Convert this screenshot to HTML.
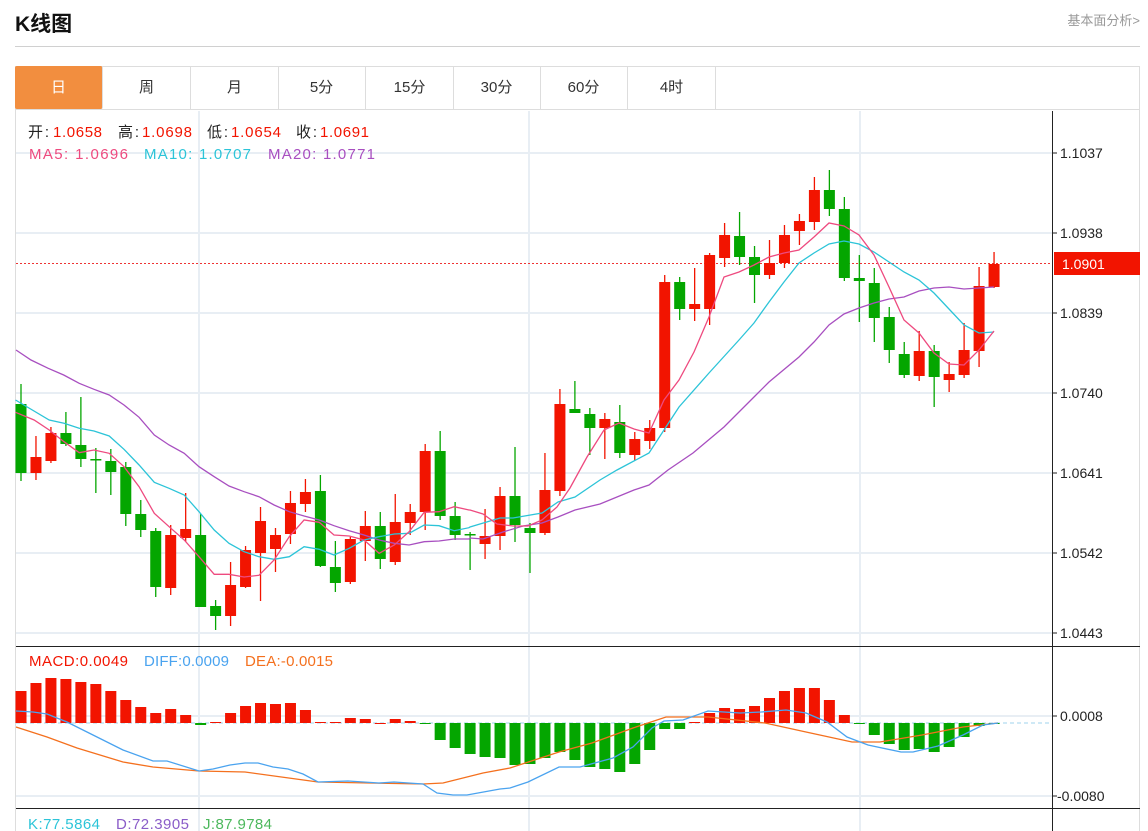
<!DOCTYPE html>
<html><head><meta charset="utf-8">
<style>
*{margin:0;padding:0;box-sizing:border-box}
html,body{width:1148px;height:831px;overflow:hidden}
body{background:#fff;font-family:"Liberation Sans","Noto Sans CJK SC",sans-serif;position:relative}
.t{position:absolute;left:15px;top:8px;font-size:21px;font-weight:bold;color:#111}
.r{position:absolute;right:8px;top:10px;font-size:13px;color:#999}
.hl{position:absolute;left:15px;top:46px;width:1125px;height:1px;background:#d0d0d0}
.box{position:absolute;left:15px;top:66px;width:1125px;height:790px;border:1px solid #ddd}
.tabs{position:absolute;left:15px;top:66px;height:44px;width:1125px;border-bottom:1px solid #ddd}
.tab{position:absolute;top:0;height:43px;width:88px;text-align:center;line-height:43px;font-size:15px;color:#333;border-right:1px solid #ddd}
.tab.a{background:#f28e3f;color:#fff;border-radius:2px}
</style></head><body>
<div class="t">K线图</div>
<div class="r">基本面分析&gt;</div>
<div class="hl"></div>
<div class="box"></div>
<div class="tabs">
<div class="tab a" style="left:0">日</div>
<div class="tab" style="left:88px">周</div>
<div class="tab" style="left:176px">月</div>
<div class="tab" style="left:263px">5分</div>
<div class="tab" style="left:351px">15分</div>
<div class="tab" style="left:438px">30分</div>
<div class="tab" style="left:525px">60分</div>
<div class="tab" style="left:613px">4时</div>
</div>
<svg id="s" width="1148" height="831" style="position:absolute;left:0;top:0" font-family="Liberation Sans, Noto Sans CJK SC, sans-serif">
<g stroke="#e8eef4" stroke-width="2">
<line x1="16" x2="1052" y1="153" y2="153"/><line x1="16" x2="1052" y1="233" y2="233"/><line x1="16" x2="1052" y1="313" y2="313"/><line x1="16" x2="1052" y1="393" y2="393"/><line x1="16" x2="1052" y1="473" y2="473"/><line x1="16" x2="1052" y1="553" y2="553"/><line x1="16" x2="1052" y1="633" y2="633"/>
<line x1="16" x2="1052" y1="716" y2="716"/><line x1="16" x2="1052" y1="796" y2="796"/>
<line x1="199" x2="199" y1="111" y2="831"/><line x1="529" x2="529" y1="111" y2="831"/><line x1="860" x2="860" y1="111" y2="831"/>
</g>
<line x1="1052.5" x2="1052.5" y1="111" y2="831" stroke="#222"/>
<line x1="16" x2="1140" y1="646.5" y2="646.5" stroke="#222"/>
<line x1="16" x2="1140" y1="808.5" y2="808.5" stroke="#222"/>
<g font-size="14" fill="#222">
<text x="1060" y="158">1.1037</text><text x="1060" y="238">1.0938</text><text x="1060" y="318">1.0839</text><text x="1060" y="398">1.0740</text><text x="1060" y="478">1.0641</text><text x="1060" y="558">1.0542</text><text x="1060" y="638">1.0443</text>
<text x="1060" y="721">0.0008</text><text x="1057" y="801">-0.0080</text>
</g>
<g stroke="#222"><line x1="1053" x2="1057" y1="153" y2="153"/><line x1="1053" x2="1057" y1="233" y2="233"/><line x1="1053" x2="1057" y1="313" y2="313"/><line x1="1053" x2="1057" y1="393" y2="393"/><line x1="1053" x2="1057" y1="473" y2="473"/><line x1="1053" x2="1057" y1="553" y2="553"/><line x1="1053" x2="1057" y1="633" y2="633"/><line x1="1053" x2="1057" y1="716" y2="716"/><line x1="1053" x2="1057" y1="796" y2="796"/></g>
<line x1="16" x2="1052" y1="263.5" y2="263.5" stroke="#e33" stroke-dasharray="2,2"/>
<rect x="1054" y="252" width="86" height="23" fill="#f21400"/>
<text x="1062" y="269" font-size="14" fill="#fff">1.0901</text>
<line x1="16" x2="1052" y1="723" y2="723" stroke="#9fd3ee" stroke-dasharray="4,3"/>
<g id="c"></g>
<g font-size="15" lengthAdjust="spacingAndGlyphs">
<text x="28" y="137" fill="#222" textLength="21">开:</text><text x="53" y="137" fill="#f21400" textLength="49">1.0658</text>
<text x="118" y="137" fill="#222" textLength="21">高:</text><text x="142" y="137" fill="#f21400" textLength="50">1.0698</text>
<text x="207" y="137" fill="#222" textLength="21">低:</text><text x="231" y="137" fill="#f21400" textLength="50">1.0654</text>
<text x="296" y="137" fill="#222" textLength="21">收:</text><text x="320" y="137" fill="#f21400" textLength="49">1.0691</text>
<text x="29" y="159" fill="#ee4a7f" textLength="99">MA5: 1.0696</text>
<text x="144" y="159" fill="#2cc4d8" textLength="107">MA10: 1.0707</text>
<text x="268" y="159" fill="#a84fc0" textLength="107">MA20: 1.0771</text>
<text x="29" y="666" fill="#f21400" textLength="99">MACD:0.0049</text>
<text x="144" y="666" fill="#4aa3ef" textLength="85">DIFF:0.0009</text>
<text x="245" y="666" fill="#f4701e" textLength="88">DEA:-0.0015</text>
<text x="28" y="829" fill="#2cc4d8" textLength="72">K:77.5864</text>
<text x="116" y="829" fill="#8a5cc8" textLength="73">D:72.3905</text>
<text x="203" y="829" fill="#4cb85c" textLength="69">J:87.9784</text>
</g>
</svg>
<script>
var R="#f21400",G="#04a600";
var C=[[0,404,473,384,481],[1,457,473,436,480],[1,433,461,427,463],[0,433,444,412,446],[0,445,459,397,467],[0,459,460,448,493],[0,461,472,449,495],[0,467,514,462,526],[0,514,530,500,537],[0,531,587,528,597],[1,535,588,525,595],[1,529,538,493,542],[0,535,607,514,607],[0,606,616,600,630],[1,585,616,562,626],[1,550,587,546,588],[1,521,553,507,601],[1,535,549,528,572],[1,503,534,491,544],[1,492,504,479,512],[0,491,566,475,567],[0,567,583,541,592],[1,539,582,537,584],[1,526,541,511,561],[0,526,559,512,569],[1,522,562,494,565],[1,512,523,504,535],[1,451,512,444,530],[0,451,516,431,520],[0,516,535,502,540],[0,534,535,532,570],[1,536,544,509,559],[1,496,536,487,550],[0,496,525,447,542],[0,528,533,523,573],[1,490,533,453,535],[1,404,491,389,496],[0,409,413,381,413],[0,414,428,408,455],[1,419,428,413,459],[0,422,453,405,458],[1,439,455,432,461],[1,428,441,420,449],[1,282,428,275,432],[0,282,309,277,320],[1,304,309,268,321],[1,255,309,253,325],[1,235,258,223,267],[0,236,257,212,265],[0,257,275,246,303],[1,263,275,240,279],[1,235,263,225,268],[1,221,231,214,245],[1,190,222,177,230],[0,190,209,170,216],[0,209,278,197,281],[0,278,281,255,322],[0,283,318,268,342],[0,317,350,307,363],[0,354,375,342,378],[1,351,376,331,381],[0,351,377,345,407],[1,374,380,362,392],[1,350,375,323,378],[1,286,351,267,367],[1,264,287,252,288]];
var M=[691,683,678,679,682,684,691,700,707,713,709,715,-725,722,713,706,703,704,703,710,722,722,718,719,723,719,721,-724,-740,-748,-754,-757,-758,-765,-764,-758,-752,-760,-767,-769,-772,-764,-750,-729,-729,722,713,708,709,706,698,691,688,688,700,715,-724,-735,-744,-750,-749,-752,-747,-737,-726,-724];
function X(i){return 21+i*14.97}
var h="";
C.forEach(function(c,i){var x=X(i),col=c[0]?R:G;h+='<line x1="'+x+'" x2="'+x+'" y1="'+c[3]+'" y2="'+c[4]+'" stroke="'+col+'" stroke-width="1.3"/>';h+='<rect x="'+(x-5.5)+'" y="'+c[1]+'" width="11" height="'+Math.max(1.5,c[2]-c[1])+'" fill="'+col+'"/>';});
M.forEach(function(v,i){var x=X(i);if(v>0){h+='<rect x="'+(x-5.5)+'" y="'+v+'" width="11" height="'+Math.max(1,723-v)+'" fill="'+R+'"/>'}else{v=-v;h+='<rect x="'+(x-5.5)+'" y="723" width="11" height="'+Math.max(1,v-723)+'" fill="'+G+'"/>'}});
function z1(a){return a.map(function(p){return [p[0]/2.904,p[1]/3+360]})}
function pl(pts,col){return '<polyline fill="none" stroke="'+col+'" stroke-width="1.3" points="'+pts.map(function(p){return p[0].toFixed(1)+','+p[1].toFixed(1)}).join(' ')+'"/>'}
var ma5=z1([[45,157],[99,180],[143,210],[186,245],[230,278],[273,270],[317,280],[360,320],[404,380],[448,460],[491,500],[535,540],[578,590],[622,643],[665,643],[709,651],[752,646],[796,600],[840,530],[883,480],[927,487],[970,525],[1014,528],[1057,540],[1101,580],[1145,555],[1188,515],[1232,457],[1275,455],[1319,440],[1362,450]]).concat([[470,510],[483,514],[497,524],[513,526],[528,526],[542,520],[557,507],[570,488],[587,457],[604,430],[619,423],[634,429],[649,433],[664,400],[679,380],[694,352],[709,317],[724,277],[739,272],[754,265],[769,257],[784,253],[799,250],[814,237],[829,223],[844,226],[859,235],[874,255],[889,287],[904,320],[919,333],[934,353],[949,364],[964,365],[979,350],[994,331]]);
var ma10=z1([[45,120],[143,180],[186,190],[230,205],[273,213],[317,228],[360,268],[404,315],[448,367],[491,385],[535,405],[578,455],[622,510],[665,550],[709,575],[752,590],[796,598],[840,590],[883,560],[927,568],[970,585],[1014,565],[1057,540],[1101,530],[1145,522],[1188,520],[1232,495],[1275,497],[1319,512],[1362,503]]).concat([[470,527],[500,518],[513,518],[542,513],[558,502],[575,497],[600,480],[617,470],[649,453],[664,430],[679,407],[709,373],[739,340],[754,323],[769,302],[784,282],[799,263],[814,253],[829,244],[844,241],[859,244],[874,252],[889,262],[904,272],[919,280],[934,293],[949,309],[964,325],[979,333],[994,332]]);
var ma20=[[16,350]].concat(z1([[90,0],[140,25],[185,45],[230,70],[273,88],[317,105],[360,135],[404,172],[448,225],[491,255],[535,280],[578,320],[622,350],[665,378],[709,395],[752,410],[796,435],[840,455],[883,468],[927,480],[970,497],[1014,512],[1057,525],[1101,540],[1145,550],[1188,555],[1232,545],[1275,543],[1319,537],[1362,537]])).concat([[470,538],[483,539],[503,532],[523,526],[542,523],[558,517],[575,510],[600,504],[634,490],[649,485],[668,470],[693,453],[724,427],[754,397],[769,382],[799,357],[814,342],[829,325],[844,314],[859,308],[874,303],[889,299],[904,297],[919,291],[934,288],[949,287],[964,289],[979,288],[994,287]]);
var diff=[[16,711],[33,712],[47,714],[67,722],[93,735],[123,750],[153,761],[167,761],[199,771],[213,769],[230,765],[245,763],[258,763],[273,767],[288,769],[303,774],[318,782],[348,781],[379,783],[394,782],[423,784],[437,793],[453,795],[467,795],[500,789],[510,788],[528,782],[559,767],[580,767],[613,758],[633,747],[652,728],[664,721],[683,720],[708,711],[740,713],[761,712],[786,710],[806,713],[827,722],[847,737],[868,745],[901,752],[913,752],[938,746],[963,735],[983,725],[998,723]];
var dea=[[16,727],[47,737],[77,748],[123,762],[153,767],[199,771],[245,772],[318,782],[423,784],[443,783],[483,773],[510,768],[559,752],[592,743],[633,728],[666,717],[708,717],[765,723],[806,732],[852,742],[880,742],[922,735],[963,727],[998,723]];
h+=pl(ma20,"#a84fc0")+pl(ma10,"#2cc4d8")+pl(ma5,"#ee4a7f")+pl(dea,"#f4701e")+pl(diff,"#4aa3ef");
document.getElementById("c").innerHTML=h;
</script>
</body></html>
